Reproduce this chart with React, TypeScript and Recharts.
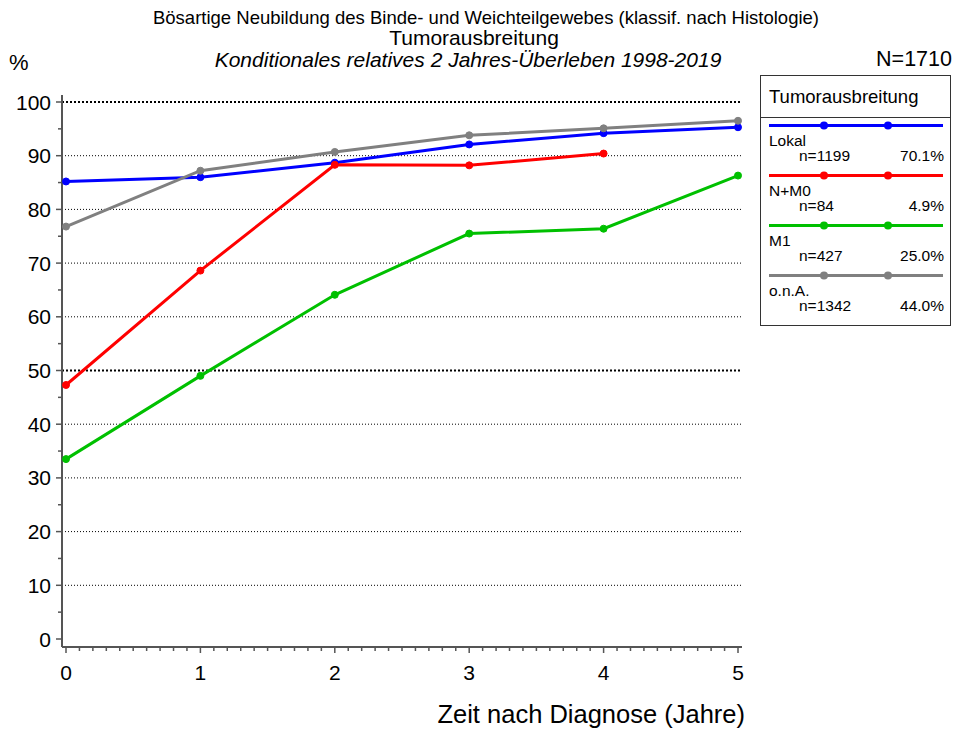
import React from 'react';
import { LineChart, Line, XAxis, YAxis, ReferenceLine } from 'recharts';

const years = [0, 1, 2, 3, 4, 5];
const lokal = [85.2, 86.0, 88.7, 92.1, 94.2, 95.3];
const nm0 = [47.3, 68.6, 88.3, 88.2, 90.4, null];
const m1 = [33.5, 49.0, 64.1, 75.5, 76.4, 86.3];
const ona = [76.8, 87.2, 90.7, 93.8, 95.1, 96.5];

const seriesNames = ['Lokal', 'N+M0', 'M1', 'o.n.A.'];
const seriesKeys = ['lokal', 'nm0', 'm1', 'ona'];
const seriesColors = ['#0000ff', '#ff0000', '#00c000', '#808080'];
const seriesN = ['n=1199', 'n=84', 'n=427', 'n=1342'];
const seriesPct = ['70.1%', '4.9%', '25.0%', '44.0%'];

const yTicks = [0, 5, 10, 15, 20, 25, 30, 35, 40, 45, 50, 55, 60, 65, 70, 75, 80, 85, 90, 95, 100];
const gridLines = [10, 20, 30, 40, 50, 60, 70, 80, 90, 100];
const boldGrid = [50, 100];
const xTicks = Array.from({ length: 51 }, (_, i) => Math.round(i) / 10);

const titleLine1 = 'Bösartige Neubildung des Binde- und Weichteilgewebes (klassif. nach Histologie)';
const titleLine2 = 'Tumorausbreitung';
const titleLine3 = 'Konditionales relatives 2 Jahres-Überleben 1998-2019';
const totalN = 'N=1710';
const xLabel = 'Zeit nach Diagnose (Jahre)';
const yUnit = '%';
const legendTitle = 'Tumorausbreitung';

const data = years.map((y, i) => ({
  year: y,
  lokal: lokal[i],
  nm0: nm0[i],
  m1: m1[i],
  ona: ona[i],
}));

const FONT = '"Liberation Sans", Arial, sans-serif';

const YTick = (props: any) => {
  const { x, y, payload } = props;
  const v = payload.value;
  const major = v % 10 === 0;
  return (
    <g>
      <line x1={x - (major ? 6 : 4)} x2={x} y1={y} y2={y} stroke="#555" strokeWidth={1.5} />
      {major && (
        <text x={x - 11} y={y} dy="0.36em" textAnchor="end" fontSize={21} fontFamily={FONT} fill="#000">
          {v}
        </text>
      )}
    </g>
  );
};

const XTick = (props: any) => {
  const { x, y, payload } = props;
  const v = payload.value;
  const major = Math.abs(v - Math.round(v)) < 1e-6;
  return (
    <g>
      <line x1={x} x2={x} y1={y} y2={y + (major ? 6 : 4)} stroke="#555" strokeWidth={1.5} />
      {major && (
        <text x={x} y={y + 33} textAnchor="middle" fontSize={21} fontFamily={FONT} fill="#000">
          {Math.round(v)}
        </text>
      )}
    </g>
  );
};

const LegendBox = ({ x, y }: { x: number; y: number }) => (
  <g transform={`translate(${x},${y})`}>
    <rect x={0.5} y={0.5} width={190} height={250} fill="#fff" stroke="#333" strokeWidth={1} />
    <text x={9} y={28} fontSize={18.5} fontFamily={FONT} fill="#000">{legendTitle}</text>
    <line x1={0} x2={191} y1={42.5} y2={42.5} stroke="#333" strokeWidth={1} />
    {seriesNames.map((name, i) => {
      const ly = 50.5 + i * 50;
      return (
        <g key={name}>
          <line x1={9} x2={183} y1={ly} y2={ly} stroke={seriesColors[i]} strokeWidth={3} />
          <circle cx={64} cy={ly} r={4} fill={seriesColors[i]} />
          <circle cx={128} cy={ly} r={4} fill={seriesColors[i]} />
          <text x={9} y={ly + 20} fontSize={15.5} fontFamily={FONT} fill="#000">{name}</text>
          <text x={39} y={ly + 35} fontSize={15.5} fontFamily={FONT} fill="#000">{seriesN[i]}</text>
          <text x={184} y={ly + 35} textAnchor="end" fontSize={15.5} fontFamily={FONT} fill="#000">{seriesPct[i]}</text>
        </g>
      );
    })}
  </g>
);

export default function App() {
  return (
    <div style={{ position: 'absolute', left: 0, top: 0, width: 954, height: 731, background: '#fff' }}>
      <LineChart
        width={954}
        height={731}
        data={data}
        margin={{ top: 95, right: 212, bottom: 54, left: 12 }}
      >
        {gridLines.map((g) => (
          <ReferenceLine
            key={g}
            y={g}
            stroke="#000"
            strokeWidth={boldGrid.includes(g) ? 2 : 1}
            strokeDasharray={boldGrid.includes(g) ? '2 2' : '1 2'}
          />
        ))}
        <XAxis
          dataKey="year"
          type="number"
          domain={[0, 5]}
          ticks={xTicks}
          interval={0}
          padding={{ left: 4, right: 4 }}
          height={30}
          tickSize={0}
          tickMargin={0}
          tickLine={false}
          axisLine={{ stroke: '#555', strokeWidth: 2 }}
          tick={<XTick />}
        />
        <YAxis
          type="number"
          domain={[0, 100]}
          ticks={yTicks}
          interval={0}
          padding={{ top: 7, bottom: 8 }}
          width={50}
          tickSize={0}
          tickMargin={0}
          tickLine={false}
          axisLine={{ stroke: '#555', strokeWidth: 2 }}
          tick={<YTick />}
        />
        {seriesKeys.map((k, i) => (
          <Line
            key={k}
            dataKey={k}
            name={seriesNames[i]}
            stroke={seriesColors[i]}
            strokeWidth={3}
            dot={{ r: 3.5, fill: seriesColors[i], stroke: seriesColors[i], strokeWidth: 1 }}
            activeDot={false}
            isAnimationActive={false}
            connectNulls={false}
          />
        ))}
      </LineChart>
      <svg
        width={954}
        height={731}
        style={{ position: 'absolute', left: 0, top: 0, pointerEvents: 'none' }}
      >
        <text x={486} y={24} textAnchor="middle" fontSize={18.5} fontFamily={FONT} fill="#000">{titleLine1}</text>
        <text x={474} y={45} textAnchor="middle" fontSize={21} fontFamily={FONT} fill="#000">{titleLine2}</text>
        <text x={468} y={67} textAnchor="middle" fontSize={21} fontStyle="italic" fontFamily={FONT} fill="#000">{titleLine3}</text>
        <text x={9} y={70} fontSize={22} fontFamily={FONT} fill="#000">{yUnit}</text>
        <text x={952} y={66} textAnchor="end" fontSize={21.5} fontFamily={FONT} fill="#000">{totalN}</text>
        <text x={745} y={723} textAnchor="end" fontSize={25.5} fontFamily={FONT} fill="#000">{xLabel}</text>
        <LegendBox x={760} y={75} />
      </svg>
    </div>
  );
}
